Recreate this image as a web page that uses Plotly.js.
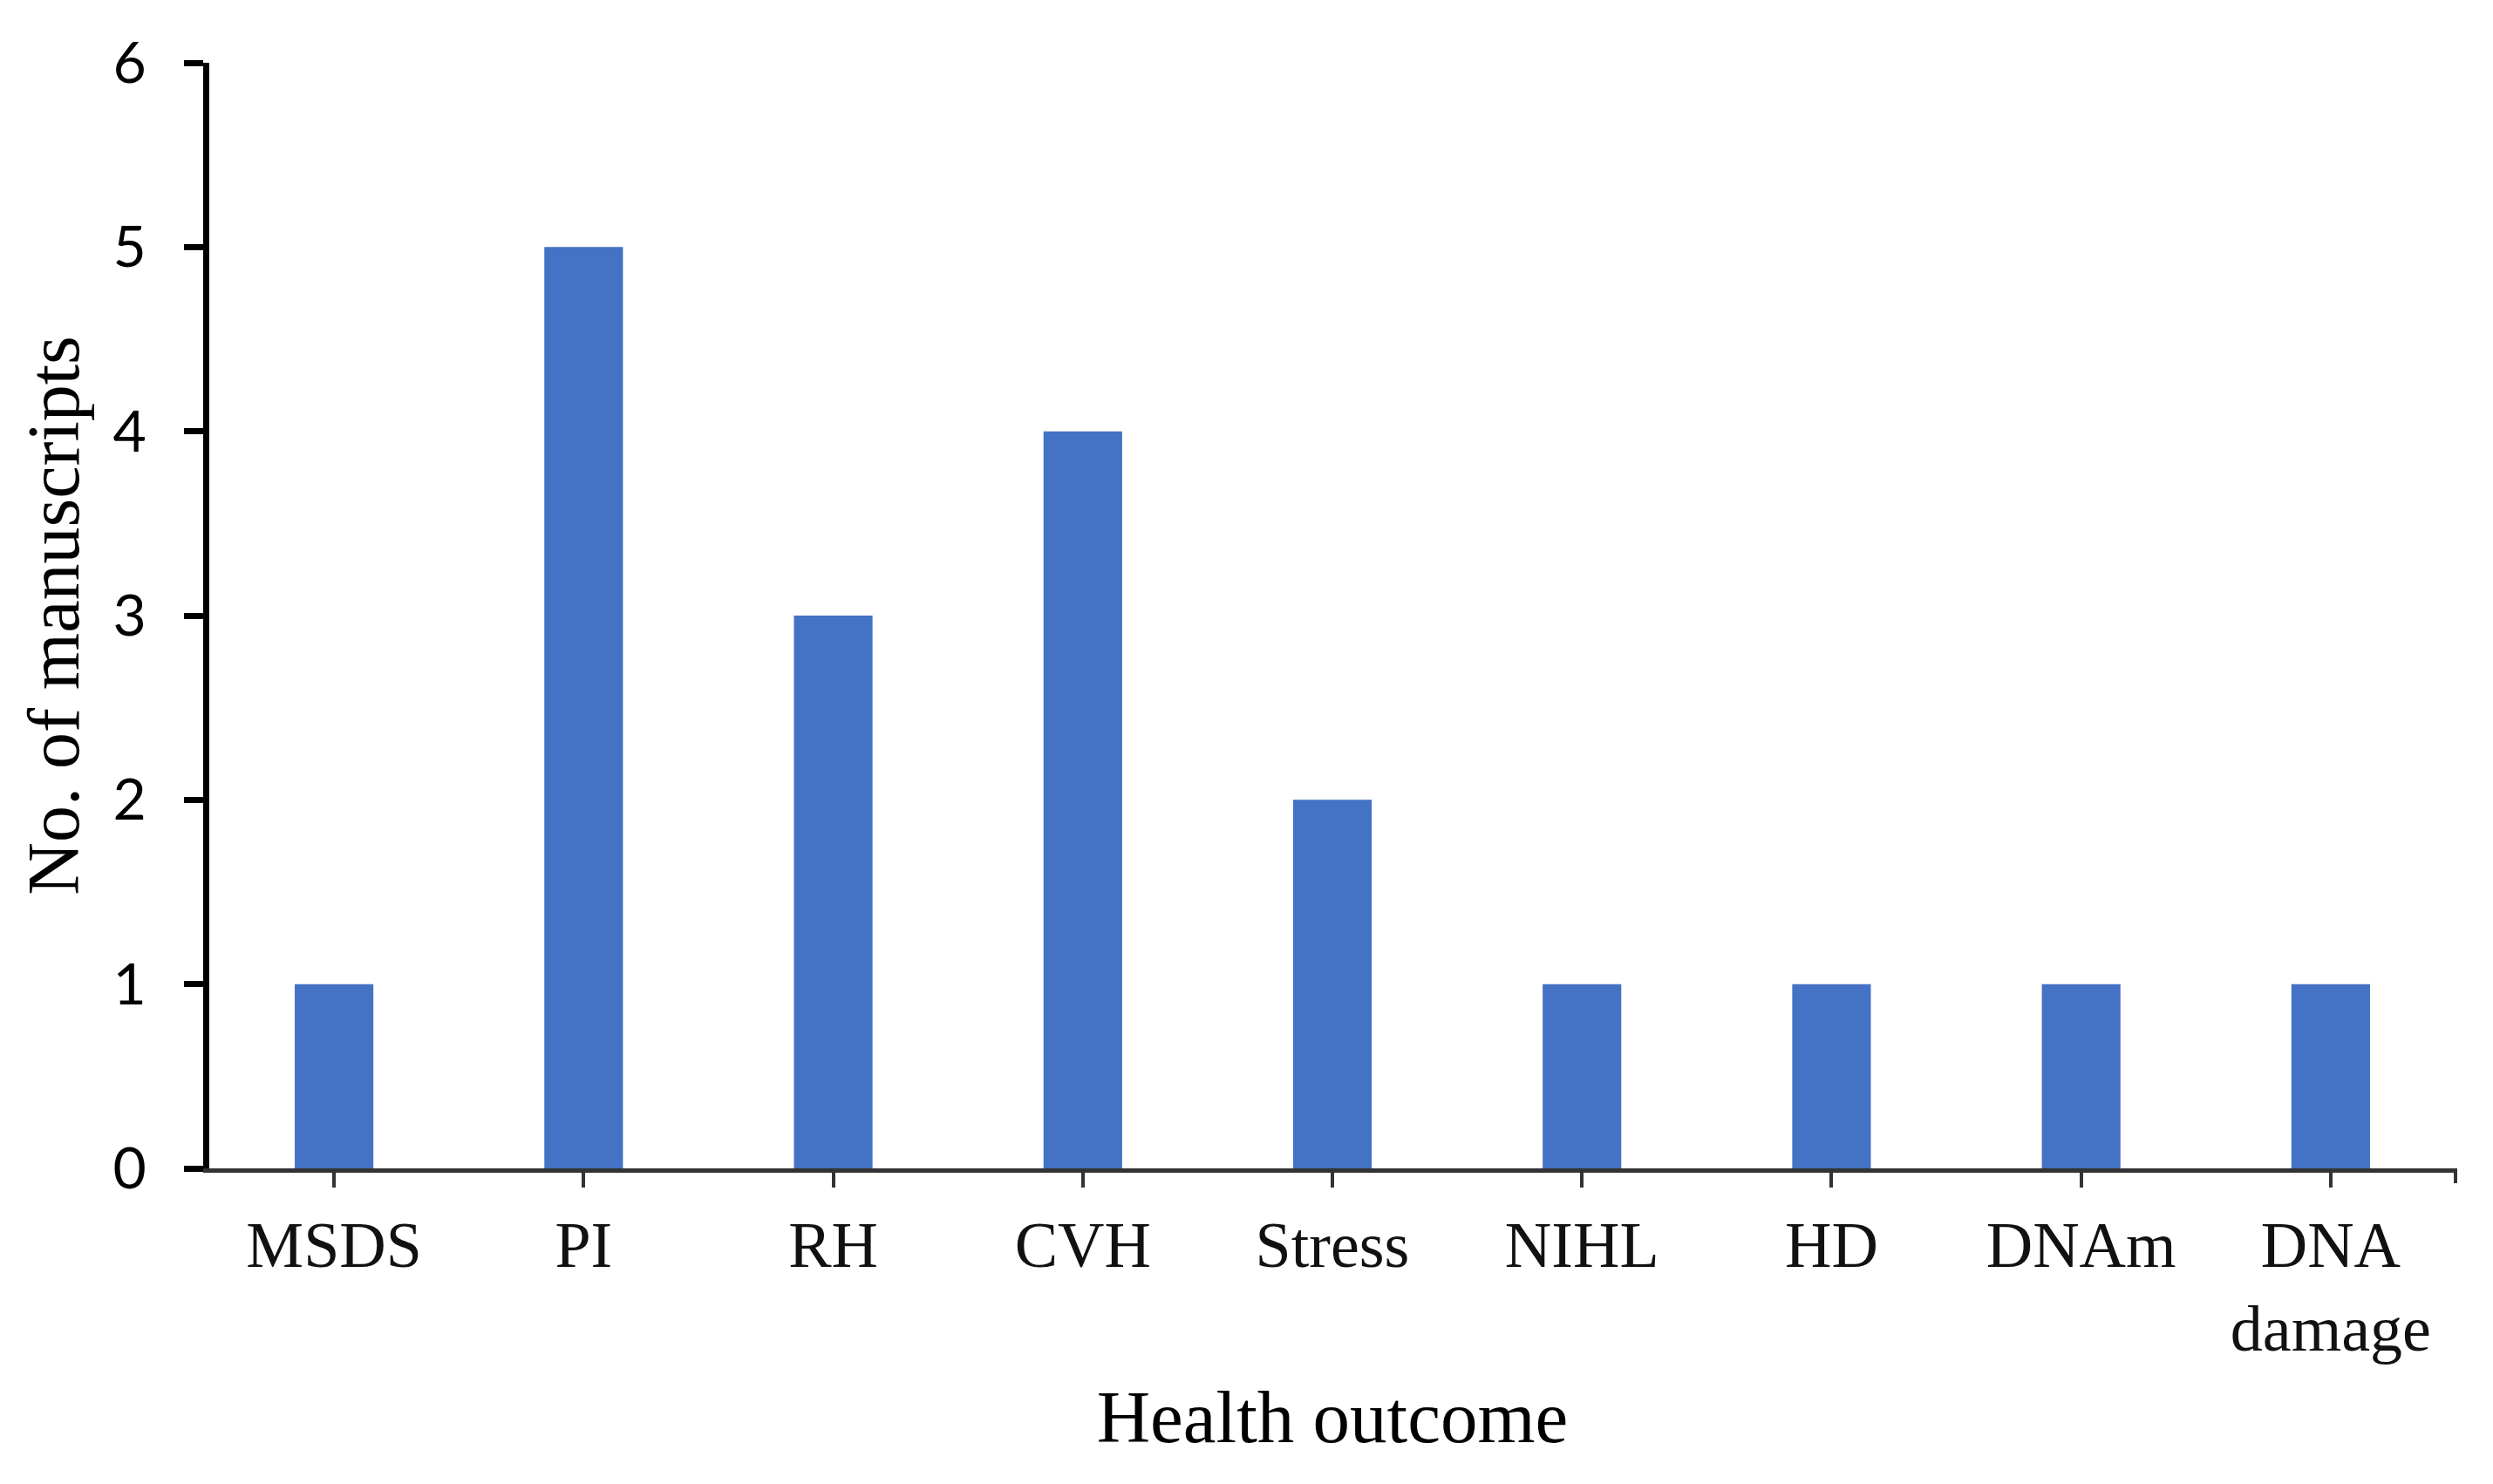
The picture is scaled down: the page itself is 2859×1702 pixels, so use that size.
<!DOCTYPE html>
<html>
<head>
<meta charset="utf-8">
<script src="https://cdn.plot.ly/plotly-3.0.1.min.js"></script>
<style>html,body{margin:0;padding:0;background:#fff;}#chart{width:2859px;height:1702px;}</style>
</head>
<body>
<div id="chart"></div>
<script>
const categories = ["MSDS", "PI", "RH", "CVH", "Stress", "NIHL", "HD", "DNAm", "DNA<br>damage"];
const manuscripts = [1, 5, 3, 4, 2, 1, 1, 1, 1];
const yTicks = [0, 1, 2, 3, 4, 5, 6];

const trace = {
  type: "bar",
  x: categories,
  y: manuscripts,
  marker: {color: "#4472C4", line: {width: 0}},
  hoverinfo: "x+y"
};

const layout = {
  width: 2859,
  height: 1702,
  paper_bgcolor: "#ffffff",
  plot_bgcolor: "#ffffff",
  margin: {l: 240, r: 43, t: 72, b: 362},
  bargap: 0.685,
  showlegend: false,
  xaxis: {
    type: "category",
    showline: true,
    linecolor: "#333333",
    linewidth: 5,
    ticks: "outside",
    ticklen: 17,
    tickwidth: 4,
    tickcolor: "#333333",
    showgrid: false,
    zeroline: false,
    ticklabelstandoff: 2,
    tickfont: {family: "Liberation Serif, Times New Roman, serif", size: 74, color: "#111111"},
    title: {text: "Health outcome", font: {family: "Liberation Serif, Times New Roman, serif", size: 85, color: "#000000"}, standoff: 32},
    automargin: false
  },
  yaxis: {
    range: [0, 6],
    tickvals: yTicks,
    showline: true,
    linecolor: "#000000",
    linewidth: 7,
    ticks: "outside",
    ticklen: 22,
    tickwidth: 7,
    tickcolor: "#000000",
    showgrid: false,
    zeroline: false,
    ticklabelstandoff: 30,
    tickfont: {family: "Lato, Liberation Sans, sans-serif", size: 66, color: "#000000"},
    title: {text: "No. of manuscripts", font: {family: "Liberation Serif, Times New Roman, serif", size: 84, color: "#000000"}, standoff: 14},
    automargin: false
  },
  shapes: [
    {type: "line", xref: "paper", yref: "paper", x0: 1, x1: 1, y0: 0, y1: -0.0134, line: {color: "#333333", width: 4}}
  ]
};

Plotly.newPlot("chart", [trace], layout, {displayModeBar: false, staticPlot: true});
</script>
</body>
</html>
